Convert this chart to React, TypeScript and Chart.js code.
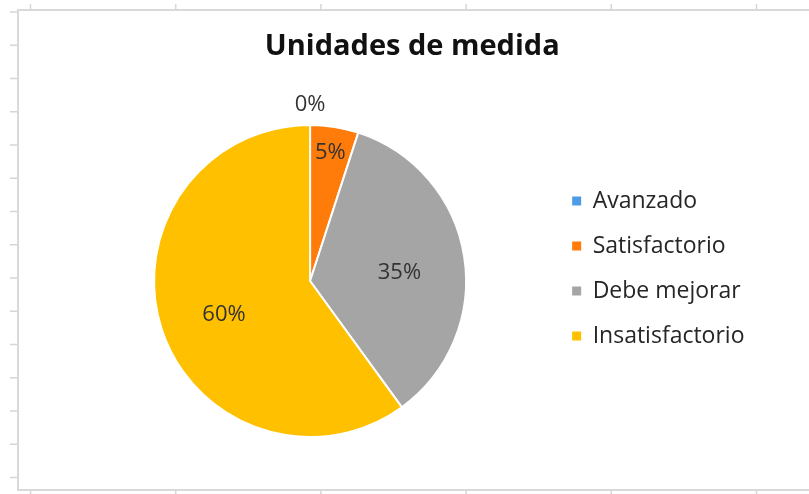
import React, { useEffect, useRef } from "react";
import { Chart, registerables } from "chart.js";

Chart.register(...registerables);

const TITLE = "Unidades de medida";
const categories = ["Avanzado", "Satisfactorio", "Debe mejorar", "Insatisfactorio"];
const values = [0, 1, 7, 12];
const colors = ["#4E9BE6", "#FF7B0A", "#A5A5A5", "#FFC000"];
const labelRadiusFactors = [1.14, 0.83, 0.58, 0.58];
const labelNudgeY = [2, 0, 6, 6];

const W = 809;
const H = 494;

const framePlugin = {
  id: "excelFrame",
  beforeDraw(chart: any) {
    const ctx = chart.ctx;
    ctx.save();
    ctx.fillStyle = "#ffffff";
    ctx.fillRect(0, 0, W, H);
    // spreadsheet gridline stubs
    ctx.strokeStyle = "#d6d6d6";
    ctx.lineWidth = 1.5;
    ctx.beginPath();
    for (let y = 12; y < 486; y += 33.25) {
      ctx.moveTo(10, y);
      ctx.lineTo(18, y);
    }
    for (let x = 30.5; x < W; x += 145.2) {
      ctx.moveTo(x, 4);
      ctx.lineTo(x, 10);
      ctx.moveTo(x, 490);
      ctx.lineTo(x, H);
    }
    ctx.stroke();
    // chart frame
    ctx.strokeStyle = "#d9d9d9";
    ctx.lineWidth = 2;
    ctx.beginPath();
    ctx.moveTo(W + 2, 10);
    ctx.lineTo(18, 10);
    ctx.lineTo(18, 490);
    ctx.lineTo(W + 2, 490);
    ctx.stroke();
    ctx.restore();
  },
};

const labelPlugin = {
  id: "pctLabels",
  afterDatasetsDraw(chart: any) {
    const ctx = chart.ctx;
    const meta = chart.getDatasetMeta(0);
    const data = chart.data.datasets[0].data as number[];
    const total = data.reduce((a, b) => a + b, 0);
    ctx.save();
    ctx.font = '22px "Open Sans"';
    ctx.fillStyle = "#333333";
    ctx.textAlign = "center";
    ctx.textBaseline = "middle";
    meta.data.forEach((arc: any, i: number) => {
      const p = arc.getProps(["x", "y", "startAngle", "endAngle", "outerRadius"], true);
      const mid = (p.startAngle + p.endAngle) / 2;
      const r = p.outerRadius * labelRadiusFactors[i];
      const x = p.x + Math.cos(mid) * r;
      const y = p.y + Math.sin(mid) * r + labelNudgeY[i];
      const pct = Math.round((data[i] / total) * 100) + "%";
      ctx.fillText(pct, x, y);
    });
    ctx.restore();
  },
};

export default function App() {
  const ref = useRef<HTMLCanvasElement | null>(null);
  useEffect(() => {
    if (!ref.current) return;
    const baseGen = (Chart as any).overrides.pie.plugins.legend.labels.generateLabels;
    const chart = new Chart(ref.current, {
      type: "pie",
      data: {
        labels: categories,
        datasets: [
          {
            data: values,
            backgroundColor: colors,
            borderColor: "#ffffff",
            borderWidth: 2,
            radius: 156,
            clip: false,
          } as any,
        ],
      },
      options: {
        responsive: false,
        animation: false,
        layout: { padding: { left: 70, right: 54.5, top: 0, bottom: 99.5 } },
        plugins: {
          title: {
            display: true,
            text: TITLE,
            color: "#111111",
            font: { family: '"Open Sans"', size: 29, weight: "bold", lineHeight: 1.2 },
            padding: { top: 29, bottom: 103.7 },
          },
          legend: {
            display: true,
            position: "right",
            align: "start",
            fullSize: false,
            labels: {
              boxWidth: 9,
              boxHeight: 9,
              padding: 22,
              color: "#262626",
              font: { family: '"Open Sans"', size: 23 },
              generateLabels: (c: any) =>
                baseGen(c).map((l: any) => ({ ...l, lineWidth: 0, strokeStyle: "rgba(0,0,0,0)" })),
            },
          },
          tooltip: { enabled: false },
        },
      },
      plugins: [framePlugin, labelPlugin],
    });
    return () => chart.destroy();
  }, []);
  return (
    <div style={{ position: "absolute", left: 0, top: 0, width: W, height: H }}>
      <canvas ref={ref} width={W} height={H} style={{ display: "block", width: W, height: H }} />
    </div>
  );
}
